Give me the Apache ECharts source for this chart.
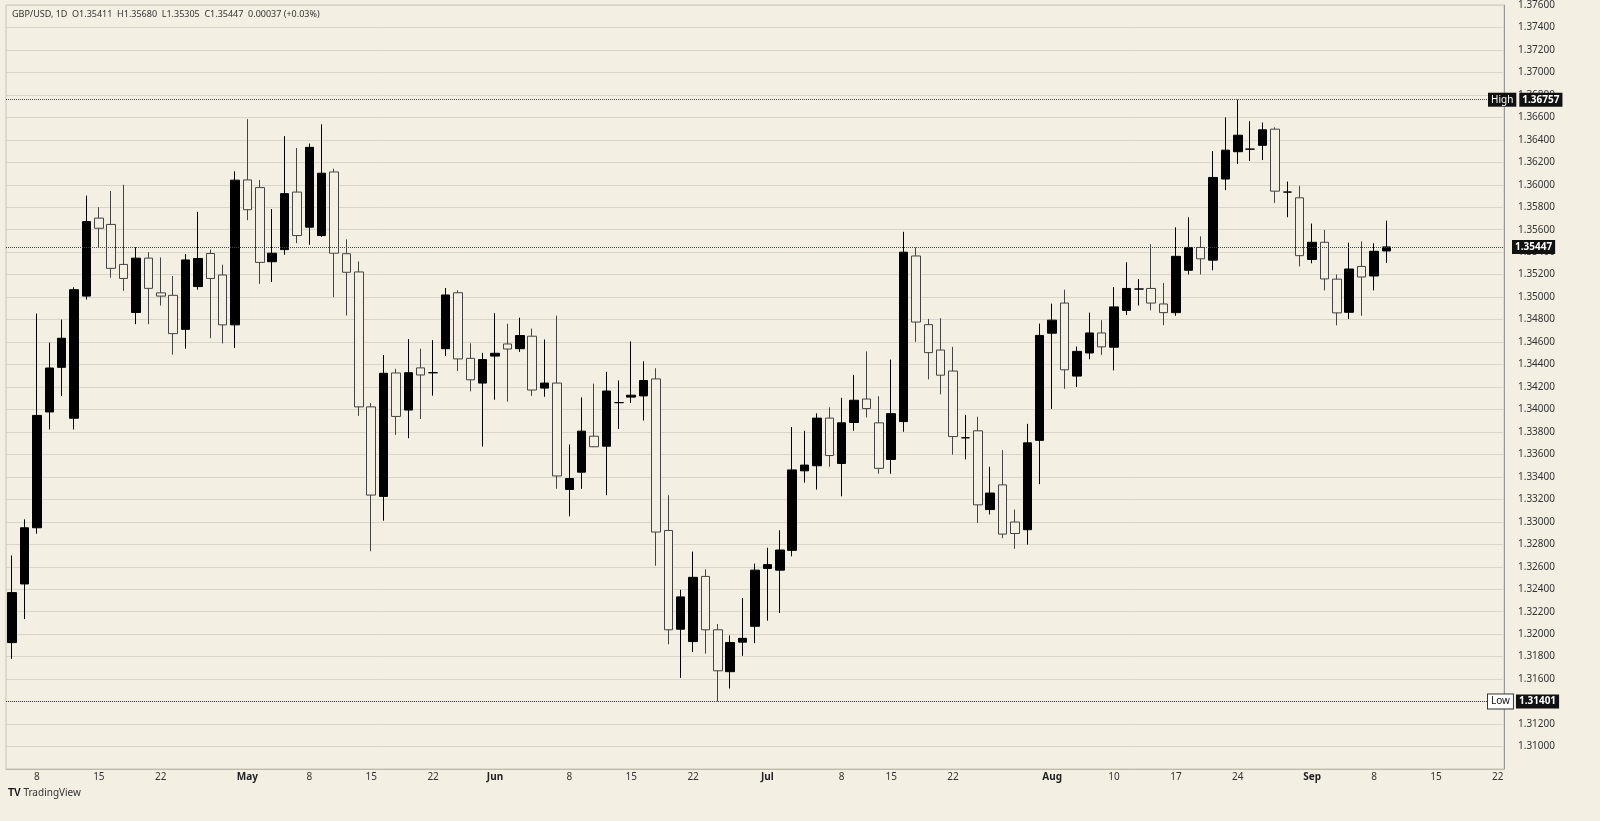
<!DOCTYPE html>
<html><head><meta charset="utf-8">
<script src="https://cdn.jsdelivr.net/npm/echarts@6/dist/echarts.min.js"></script>
<style>html,body{margin:0;padding:0;background:#f4efe3;}#c{width:1600px;height:821px;}</style>
</head><body><div id="c"></div>
<script>
const opens=[1.31925,1.32447,1.32947,1.33978,1.34375,1.33922,1.35009,1.35703,1.35647,1.35291,1.34863,1.35347,1.35038,1.35016,1.34713,1.35094,1.35388,1.35197,1.34753,1.36043,1.35975,1.35315,1.35423,1.35935,1.35622,1.35548,1.36114,1.35386,1.35224,1.34023,1.33226,1.34325,1.33995,1.3437,1.34327,1.34541,1.35039,1.34455,1.34235,1.34475,1.34583,1.34541,1.34652,1.3419,1.34235,1.33288,1.33442,1.33762,1.33673,1.34061,1.3411,1.34121,1.34272,1.32923,1.32044,1.31934,1.32514,1.32039,1.31666,1.31929,1.3207,1.32585,1.3257,1.32746,1.33454,1.33499,1.33923,1.33519,1.33884,1.34093,1.33881,1.33555,1.33892,1.35366,1.34755,1.34529,1.34342,1.33748,1.3381,1.33109,1.33329,1.32998,1.3293,1.33725,1.34679,1.34947,1.34297,1.34503,1.34681,1.34554,1.34882,1.35072,1.35077,1.34939,1.34862,1.35239,1.35442,1.35329,1.36051,1.36294,1.36317,1.36351,1.36495,1.35935,1.35884,1.35335,1.35488,1.3516,1.34865,1.35273,1.35188,1.35411];
const closes=[1.3237,1.32947,1.33947,1.34369,1.34634,1.35066,1.35672,1.35613,1.35256,1.35166,1.35347,1.35078,1.35009,1.34675,1.35331,1.35344,1.35166,1.34753,1.36041,1.35778,1.35309,1.35391,1.35921,1.35548,1.36333,1.36103,1.35391,1.35221,1.34023,1.33238,1.34322,1.33938,1.34327,1.34307,1.34327,1.35019,1.3445,1.34264,1.34444,1.345,1.34538,1.34658,1.34173,1.34235,1.33408,1.33385,1.33807,1.33668,1.34164,1.34061,1.34127,1.34258,1.32909,1.32039,1.32332,1.32506,1.32039,1.31674,1.31926,1.31963,1.3257,1.32619,1.32749,1.33462,1.33505,1.33923,1.3359,1.33881,1.34082,1.34008,1.33476,1.33963,1.3540,1.34778,1.34506,1.34305,1.33759,1.33748,1.33151,1.33256,1.32891,1.32896,1.33703,1.34659,1.34795,1.34353,1.34517,1.34681,1.34557,1.34913,1.35077,1.35072,1.34947,1.34862,1.35363,1.35442,1.35341,1.36065,1.36308,1.36441,1.36317,1.36489,1.35943,1.35935,1.35369,1.35488,1.35162,1.3486,1.3525,1.35179,1.35408,1.35447];
const lows=[1.3178,1.32134,1.32894,1.33822,1.34119,1.33822,1.34978,1.35437,1.35172,1.35056,1.34759,1.34759,1.34925,1.34488,1.34541,1.35066,1.34634,1.34588,1.34547,1.35685,1.35118,1.35135,1.35377,1.3548,1.35465,1.35537,1.3500,1.34837,1.33943,1.32738,1.3301,1.33773,1.33744,1.33915,1.34123,1.34475,1.34342,1.34161,1.3367,1.34087,1.3407,1.34512,1.34121,1.34113,1.33294,1.33049,1.33294,1.33665,1.33237,1.33827,1.34058,1.33902,1.32609,1.3191,1.31611,1.31841,1.31827,1.31401,1.31516,1.31807,1.3192,1.3212,1.32189,1.32693,1.33349,1.33287,1.3349,1.33227,1.3381,1.33929,1.33428,1.33428,1.33802,1.34602,1.34268,1.34135,1.33598,1.33556,1.3299,1.33066,1.32854,1.3276,1.32797,1.33335,1.34005,1.34184,1.342,1.34447,1.34486,1.34348,1.3484,1.34925,1.34882,1.3475,1.34834,1.35202,1.35202,1.35239,1.35952,1.36186,1.36212,1.3622,1.35839,1.35711,1.35273,1.35301,1.3506,1.34749,1.34806,1.34834,1.3506,1.35305];
const highs=[1.3270,1.33022,1.34853,1.34594,1.3480,1.35087,1.35903,1.3580,1.35944,1.3600,1.35444,1.3540,1.35353,1.35188,1.35384,1.35759,1.35422,1.35288,1.36119,1.36584,1.36043,1.35784,1.36433,1.36327,1.36367,1.36538,1.36143,1.35514,1.35317,1.34057,1.34484,1.34362,1.34626,1.34541,1.34617,1.35081,1.35061,1.34589,1.34504,1.34857,1.34763,1.34817,1.3472,1.34623,1.34835,1.33688,1.34107,1.3423,1.34335,1.34258,1.34606,1.34429,1.34367,1.33237,1.32395,1.32735,1.32577,1.3209,1.31989,1.32322,1.32628,1.32769,1.32925,1.33844,1.3381,1.33966,1.3402,1.34104,1.34308,1.34517,1.34118,1.34444,1.35581,1.35442,1.34806,1.34812,1.34557,1.33952,1.33935,1.3349,1.33638,1.33109,1.33872,1.34764,1.34942,1.35066,1.3456,1.34862,1.34795,1.35089,1.3531,1.3516,1.35471,1.35126,1.35621,1.35711,1.35541,1.363,1.36599,1.36757,1.36566,1.36554,1.36512,1.36028,1.35991,1.35655,1.35598,1.35202,1.35485,1.35496,1.35479,1.3568];
const tickLabels={2:'8',7:'15',12:'22',19:'May',24:'8',29:'15',34:'22',39:'Jun',45:'8',50:'15',55:'22',61:'Jul',67:'8',71:'15',76:'22',84:'Aug',89:'10',94:'17',99:'24',105:'Sep',110:'8',115:'15',120:'22'};
const monthNames=['May','Jun','Jul','Aug','Sep'];
const highVal=1.36757, lowVal=1.31401, lastVal=1.35447;

const N=121;
const cats=[];
let d=new Date(Date.UTC(2025,3,4));
while(cats.length<N){const w=d.getUTCDay();if(w!==0&&w!==6)cats.push(d.toISOString().slice(0,10));d=new Date(d.getTime()+86400000);}
const data=opens.map((o,i)=>[o,closes[i],lows[i],highs[i]]);
const F='"Noto Sans", Roboto, sans-serif';
const chart=echarts.init(document.getElementById('c'));
chart.setOption({
  backgroundColor:'#f4efe3',
  animation:false,
  grid:{left:6,right:96,top:-13,bottom:52,show:true,borderColor:'#c9c4b8',borderWidth:1},
  xAxis:{type:'category',data:cats,boundaryGap:true,
    axisLine:{show:true,lineStyle:{color:'#bdb8ac'}},axisTick:{show:false},splitLine:{show:false},
    axisLabel:{interval:0,margin:3,color:'#333',fontSize:10,fontFamily:F,
      formatter:(v,i)=>{const t=tickLabels[i];if(!t)return '';return monthNames.includes(t)?'{b|'+t+'}':t;},
      rich:{b:{fontWeight:'bold',fontSize:10,color:'#222',fontFamily:F}}}},
  yAxis:{type:'value',position:'right',min:1.308,max:1.376,interval:0.002,
    axisLine:{show:true,lineStyle:{color:'#999'}},axisTick:{show:false},
    splitLine:{lineStyle:{color:'#d9d4c8',width:1}},
    axisLabel:{margin:14,color:'#333',fontSize:10,fontFamily:F,showMinLabel:false,formatter:v=>v.toFixed(5)}},
  series:[{type:'candlestick',data:data,barWidth:9,
    itemStyle:{color:'#000000',color0:'#f4efe3',borderColor:'#000000',borderColor0:'#444444',borderColorDoji:'#000000',borderWidth:1},
    markLine:{silent:true,symbol:'none',animation:false,precision:5,
      lineStyle:{type:'dotted',color:'#444',width:1},
      data:[
        {yAxis:highVal,label:{show:true,position:'end',distance:-16,formatter:'{t|High}{s| }{v|'+highVal.toFixed(5)+'}',
          rich:{t:{backgroundColor:'#111',color:'#fff',fontSize:10,padding:[2,3],fontFamily:F},s:{width:3},v:{backgroundColor:'#111',color:'#fff',fontSize:10,fontWeight:'bold',padding:[2,3],fontFamily:F}}}},
        {yAxis:lowVal,label:{show:true,position:'end',distance:-16,formatter:'{t|Low}{s| }{v|'+lowVal.toFixed(5)+'}',
          rich:{t:{backgroundColor:'#fff',color:'#111',borderColor:'#333',borderWidth:1,fontSize:10,padding:[2,3],fontFamily:F},s:{width:3},v:{backgroundColor:'#111',color:'#fff',fontSize:10,fontWeight:'bold',padding:[2,3],fontFamily:F}}}},
        {yAxis:lastVal,label:{show:true,position:'end',distance:8,formatter:'{v|'+lastVal.toFixed(5)+'}',
          rich:{v:{backgroundColor:'#111',color:'#fff',fontSize:10,fontWeight:'bold',padding:[2,3],fontFamily:F}}}}
      ]}}],
  graphic:[
    {type:'text',left:12,top:10,style:{text:'GBP/USD, 1D  O1.35411  H1.35680  L1.35305  C1.35447  0.00037 (+0.03%)',fontSize:9,fill:'#333',fontFamily:F}},
    {type:'text',left:8,top:788,style:{text:'{l|TV} TradingView',fontSize:10,fill:'#333',fontFamily:F,rich:{l:{fontWeight:'bold',fontSize:10,fill:'#111'}}}}
  ]
});
</script></body></html>
